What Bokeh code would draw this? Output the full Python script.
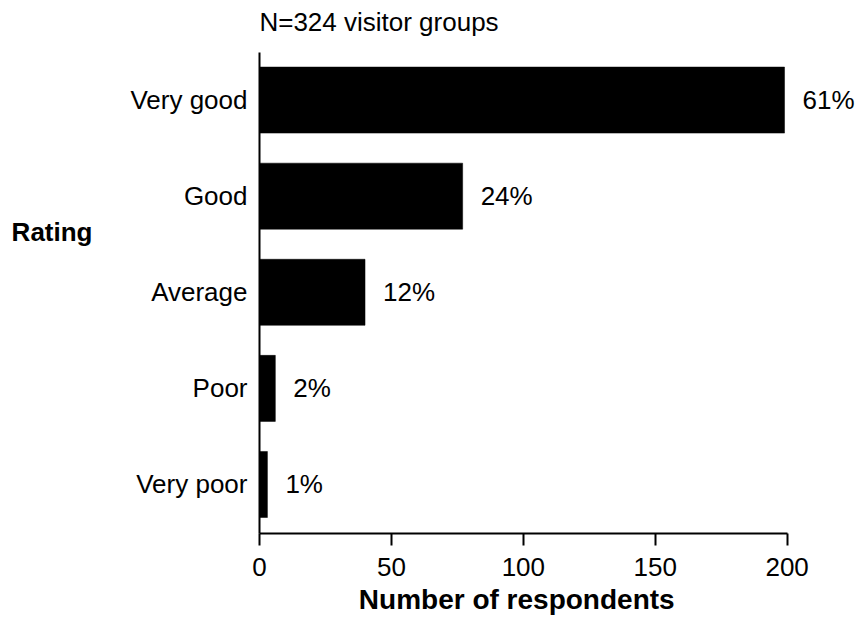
from bokeh.plotting import figure
from bokeh.models import Range1d, FixedTicker, Label, ColumnDataSource, LinearAxis
from bokeh.embed import file_html
from bokeh.resources import INLINE

# ---- data ----
categories = ["Very good", "Good", "Average", "Poor", "Very poor"]
counts = [199, 77, 40, 6, 3]
pct_labels = ["61%", "24%", "12%", "2%", "1%"]
x_ticks = [0, 50, 100, 150, 200]
subtitle = "N=324 visitor groups"
x_title = "Number of respondents"
y_title = "Rating"

FONT = "Liberation Sans"
FS = "26px"

ypos = [len(categories) - 1 - i for i in range(len(categories))]
src = ColumnDataSource(dict(y=ypos, count=counts, pct=pct_labels))

p = figure(width=860, height=620, output_backend="svg", toolbar_location=None,
           x_range=Range1d(0, 227.8), y_range=Range1d(-0.51, 4.495),
           min_border_left=259, min_border_right=0, min_border_top=52,
           min_border_bottom=87)
p.background_fill_color = "white"
p.border_fill_color = "white"
p.outline_line_color = None
p.xgrid.visible = False
p.ygrid.visible = False

p.hbar(y="y", left=0, right="count", height=0.687, source=src,
       fill_color="black", line_color="black", line_width=0.5)

for c, y, t in zip(counts, ypos, pct_labels):
    p.add_layout(Label(x=c, y=y, text=t, x_offset=18,
                       text_align="left", text_baseline="middle",
                       text_font=FONT, text_font_size=FS, text_color="black"))


def label_axis(tick, text, size, style, standoff):
    ax = LinearAxis(ticker=FixedTicker(ticks=[tick]),
                    major_label_overrides={tick: text})
    ax.axis_line_color = None
    ax.major_tick_line_color = None
    ax.minor_tick_line_color = None
    ax.major_tick_out = 0
    ax.major_tick_in = 0
    ax.major_label_text_font = FONT
    ax.major_label_text_font_size = size
    ax.major_label_text_font_style = style
    ax.major_label_text_color = "black"
    ax.major_label_standoff = standoff
    return ax


# x axis
xa = p.xaxis[0]
xa.ticker = FixedTicker(ticks=x_ticks)
xa.bounds = (x_ticks[0], x_ticks[-1])
xa.axis_line_width = 2
xa.axis_line_color = "black"
xa.major_tick_line_width = 2
xa.major_tick_line_color = "black"
xa.major_tick_out = 12
xa.major_tick_in = 0
xa.minor_tick_line_color = None
xa.major_label_text_font = FONT
xa.major_label_text_font_size = FS
xa.major_label_text_color = "black"
xa.major_label_standoff = 12

# x axis title (label-only axis below)
p.add_layout(label_axis(97.5, x_title, "28px", "bold", 5), "below")

# y axis
ya = p.yaxis[0]
ya.ticker = FixedTicker(ticks=ypos)
ya.major_label_overrides = {float(y): c for y, c in zip(ypos, categories)}
ya.axis_line_width = 2
ya.axis_line_color = "black"
ya.major_tick_line_color = None
ya.major_tick_out = 0
ya.major_tick_in = 0
ya.minor_tick_line_color = None
ya.major_label_text_font = FONT
ya.major_label_text_font_size = FS
ya.major_label_text_color = "black"
ya.major_label_standoff = 12

# y axis title, horizontal (label-only axis at left)
p.add_layout(label_axis(2.63, y_title, FS, "bold", 35), "left")

# subtitle above the plot (label-only axis above)
p.add_layout(label_axis(45.3, subtitle, FS, "normal", 16), "above")

open("out.html", "w").write(file_html(p, INLINE))
